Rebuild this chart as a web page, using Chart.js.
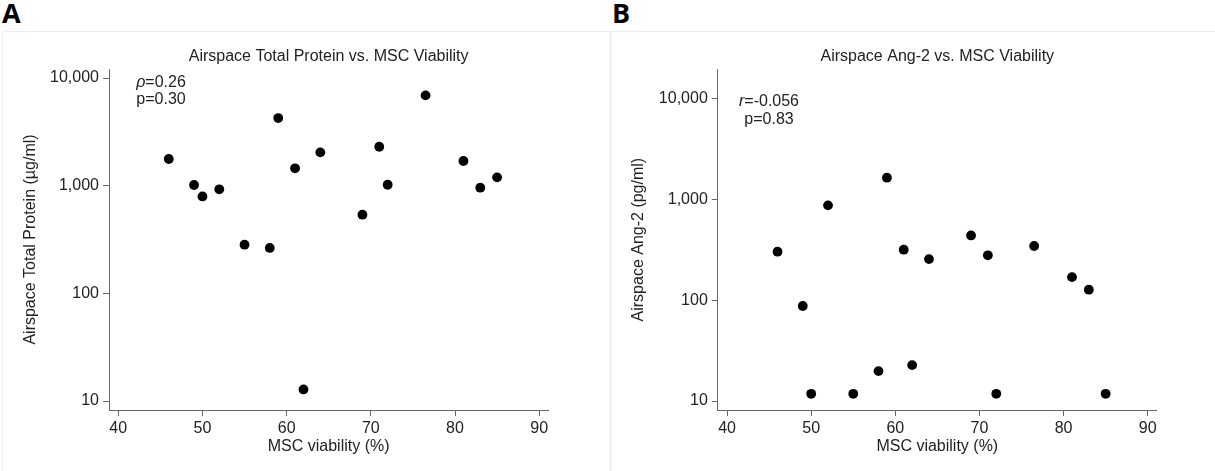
<!DOCTYPE html>
<html><head><meta charset="utf-8">
<script src="https://cdn.jsdelivr.net/npm/chart.js@4.4.1/dist/chart.umd.min.js"></script>
<style>
html,body{margin:0;padding:0;background:#fff}
body{width:1215px;height:471px;overflow:hidden;position:relative}
.lbl{position:absolute;font-family:"Open Sans",sans-serif;font-weight:700;font-size:27px;line-height:27px;color:#000}
.topline{position:absolute;left:2px;top:31px;width:1213px;height:1px;background:#ededed}
.vl{position:absolute;top:31px;height:440px;background:#eef4f5}
#wa{position:absolute;left:0;top:32px;width:600px;height:439px}
#wb{position:absolute;left:605px;top:32px;width:610px;height:439px}
</style>
</head><body>
<div class="lbl" style="left:2px;top:-1px">A</div>
<div class="lbl" style="left:612px;top:-1px">B</div>
<div class="topline"></div>
<div class="vl" style="left:2px;width:1px"></div>
<div class="vl" style="left:609px;width:3px"></div>
<div id="wa"><canvas id="ca" width="600" height="439"></canvas></div>
<div id="wb"><canvas id="cb" width="610" height="439"></canvas></div>
<script>
// ---- data ----
const viabilityA = [46, 49, 50, 52, 55, 58, 59, 61, 62, 64, 69, 71, 72, 76.5, 81, 83, 85];
const totalProtein = [1770, 1015, 795, 925, 283, 264, 4250, 1450, 12.8, 2040, 538, 2300, 1020, 6900, 1695, 958, 1195];
const viabilityB = [46, 49, 50, 52, 55, 58, 59, 61, 62, 64, 69, 71, 72, 76.5, 81, 83, 85];
const ang2 = [302, 87.5, 11.8, 870, 11.8, 19.8, 1634, 316, 22.7, 255, 438, 278, 11.8, 344, 169, 127, 11.8];
const xTicks = [40, 50, 60, 70, 80, 90];
const yTicks = [10, 100, 1000, 10000];
const titleA = 'Airspace Total Protein vs. MSC Viability';
const titleB = 'Airspace Ang-2 vs. MSC Viability';
const yLabelA = 'Airspace Total Protein (\u00b5g/ml)';
const yLabelB = 'Airspace Ang-2 (pg/ml)';
const xLabel = 'MSC viability (%)';
const statsA = [['\u03c1', '=0.26'], ['', 'p=0.30']];
const statsB = [['r', '=-0.056'], ['', 'p=0.83']];

const FONT = '"Liberation Sans", Arial, Helvetica, sans-serif';
const TXT = '#222';
const AX = '#666';

const statsPlugin = {
  id: 'stats',
  afterDatasetsDraw(chart, args, o) {
    const {ctx, chartArea} = chart;
    ctx.save();
    ctx.fillStyle = TXT;
    ctx.textBaseline = 'middle';
    ctx.textAlign = 'left';
    o.lines.forEach((pair, i) => {
      ctx.font = 'italic 16px ' + FONT;
      const w1 = ctx.measureText(pair[0]).width;
      ctx.font = '16px ' + FONT;
      const w2 = ctx.measureText(pair[1]).width;
      let x = chartArea.left + o.dx - (w1 + w2) / 2;
      const y = chartArea.top + o.dy[i];
      if (pair[0]) { ctx.font = 'italic 16px ' + FONT; ctx.fillText(pair[0], x, y); x += w1; }
      ctx.font = '16px ' + FONT;
      ctx.fillText(pair[1], x, y);
    });
    ctx.restore();
  }
};

function makeChart(id, xs, ys, cfg) {
  const pts = xs.map((x, i) => ({x: x, y: ys[i]}));
  return new Chart(document.getElementById(id), {
    type: 'scatter',
    data: {datasets: [{data: pts, backgroundColor: '#000', borderWidth: 0, pointRadius: 4.9, pointHoverRadius: 4.9}]},
    plugins: [statsPlugin],
    options: {
      responsive: false, animation: false, events: [],
      layout: {padding: {left: 4, right: cfg.padRight, top: 0, bottom: 0}},
      plugins: {
        legend: {display: false}, tooltip: {enabled: false},
        title: {display: true, text: cfg.title, fullSize: false, color: TXT,
          font: {family: FONT, size: 16, weight: 'normal', lineHeight: 1.2},
          padding: {top: 15.4, bottom: cfg.titleBottom}},
        stats: cfg.stats
      },
      scales: {
        x: {
          type: 'linear', min: 38.9, max: 91.08,
          afterBuildTicks: s => { s.ticks = xTicks.map(v => ({value: v})); },
          afterFit: s => { s.height = 61; },
          grid: {display: true, drawOnChartArea: false, drawTicks: true, tickLength: 6, tickColor: AX, tickWidth: 1},
          border: {display: true, color: AX, width: 1},
          ticks: {color: TXT, font: {family: FONT, size: 16}, padding: 3, maxRotation: 0, autoSkip: false},
          title: {display: true, text: xLabel, color: TXT, font: {family: FONT, size: 16}, padding: {top: 0, bottom: 14.4}}
        },
        y: {
          type: 'logarithmic', min: cfg.ymin, max: cfg.ymax,
          afterBuildTicks: s => { s.ticks = yTicks.map(v => ({value: v})); },
          afterFit: s => { s.width = cfg.yWidth; },
          grid: {display: true, drawOnChartArea: false, drawTicks: true, tickLength: 6, tickColor: AX, tickWidth: 1},
          border: {display: true, color: AX, width: 1},
          ticks: {color: TXT, font: {family: FONT, size: 16}, padding: 4, autoSkip: false,
            callback: v => Number(v).toLocaleString('en-US')},
          title: {display: true, text: cfg.yLabel, color: TXT, font: {family: FONT, size: 16}, padding: {top: cfg.yTitlePad, bottom: 0}}
        }
      }
    }
  });
}

makeChart('ca', viabilityA, totalProtein, {
  title: titleA, yLabel: yLabelA, padRight: 51.7, titleBottom: 2.4,
  ymin: 8.25, ymax: 12130, yWidth: 105, yTitlePad: 17.4,
  stats: {lines: statsA, dx: 52, dy: [14, 31]}
});
makeChart('cb', viabilityB, ang2, {
  title: titleB, yLabel: yLabelB, padRight: 58.2, titleBottom: 2.7,
  ymin: 8.15, ymax: 19400, yWidth: 108.8, yTitlePad: 20.4,
  stats: {lines: statsB, dx: 51.2, dy: [32.4, 50]}
});
</script>
</body></html>
